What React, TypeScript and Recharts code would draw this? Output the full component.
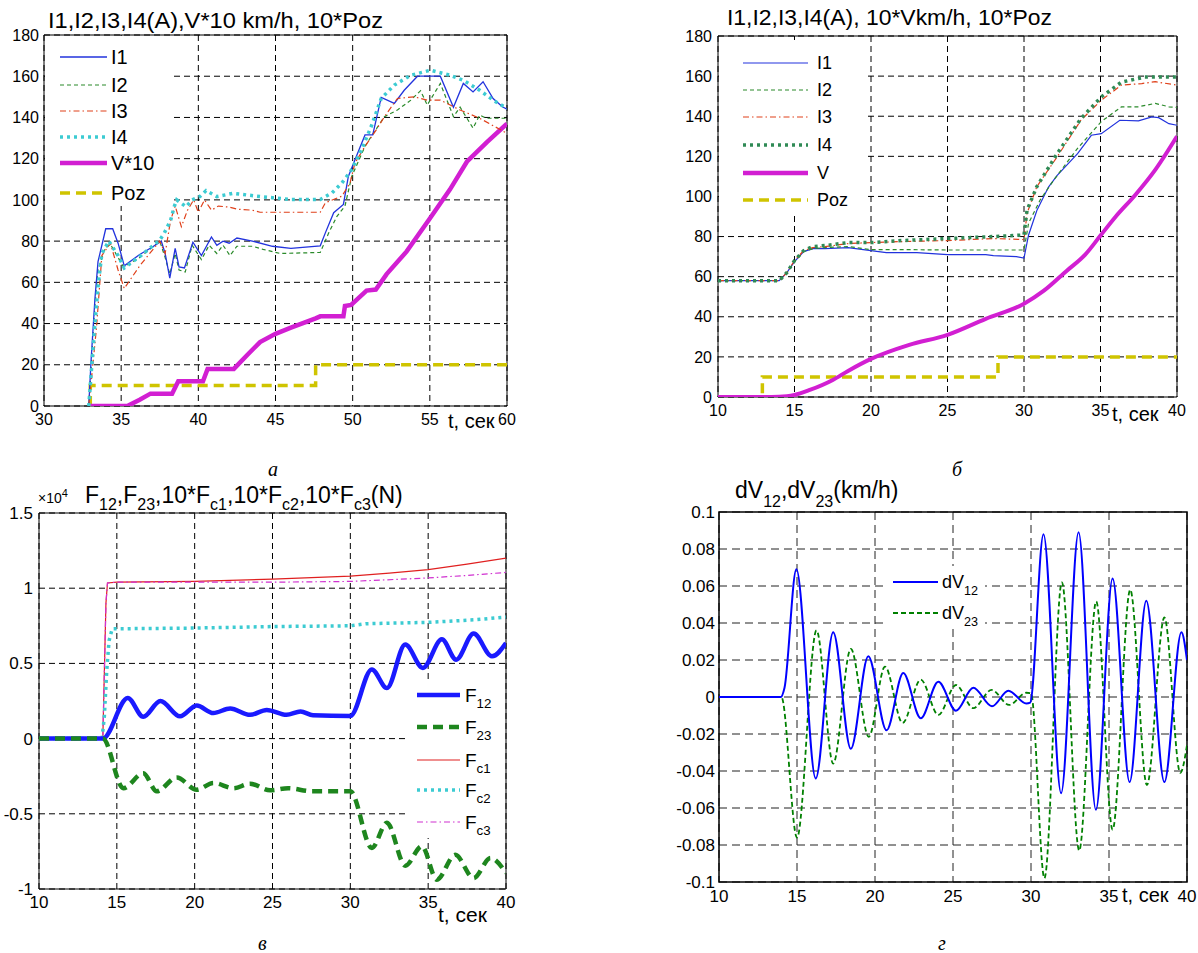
import React from 'react';
import { LineChart, Line, XAxis, YAxis, CartesianGrid, ReferenceArea } from 'recharts';

type P = [number, number];

// ---------------- Panel а : t 30..60 ----------------
const aXTicks = [30, 35, 40, 45, 50, 55, 60];
const aYTicks = [0, 20, 40, 60, 80, 100, 120, 140, 160, 180];
const aI1: P[] = [[32.9,0],[33.05,22],[33.3,52],[33.5,70],[33.75,78],[34.0,86],[34.45,86],[34.8,79],[35.2,68],[36.2,73.5],[37.0,77],[37.6,80],[37.85,74],[38.15,62],[38.5,76.5],[38.75,67.5],[39.1,67],[39.65,79.5],[40.2,73],[40.85,82],[41.2,78],[41.6,80],[42.0,79],[42.5,81.5],[43.5,80],[44.8,77.5],[46.0,76.5],[47.9,77.7],[48.23,84],[48.77,93.8],[49.4,97.8],[49.72,111.4],[50.15,119.5],[50.8,131.5],[51.3,131.5],[51.85,149.7],[52.7,146.8],[53.34,153.2],[54.2,160],[55.68,160],[56.53,144.9],[57.17,156.5],[57.8,152.4],[58.45,157.3],[59.1,149.2],[59.7,145.2],[60,144]];
const aI2: P[] = [[32.9,0],[33.05,18],[33.3,48],[33.5,66],[33.95,76.5],[34.3,78.5],[35.15,67.5],[36.2,72],[37.5,80],[37.85,72],[38.15,64],[38.5,74],[38.75,66],[39.15,65],[39.6,78],[40.2,71],[40.7,78],[41.2,74],[41.6,78],[42.05,73],[42.5,77.5],[43.5,77.5],[44.2,76],[45.3,74],[47.9,74.5],[48.45,84],[48.98,92],[49.5,97],[49.94,111.4],[50.8,126],[51.2,130.7],[52.06,140.4],[52.9,143.6],[53.77,148.4],[54.4,153],[54.83,146],[55.68,156.5],[56.53,140.4],[56.96,145],[57.8,134.8],[58.23,141.2],[58.66,139.6],[60,139.6]];
const aI3: P[] = [[32.9,0],[33.1,15],[33.4,38],[33.75,73],[34.3,79],[34.8,66],[35.2,57],[36.2,68],[37.5,80],[37.85,74],[38.2,90],[38.5,97],[38.9,87],[39.3,95],[39.7,100],[40.0,94],[40.4,100],[40.85,95],[41.3,97],[42.0,96.5],[42.5,95.5],[43.5,95],[44.0,94],[47.9,94],[48.23,98.6],[49.3,101.8],[49.83,108.2],[50.15,117.9],[50.8,126],[51.53,134],[52.06,140.4],[52.9,149.2],[53.98,150],[54.83,148.4],[55.68,148.4],[56.96,143.6],[58.23,139.6],[60,132.3]];
const aI4: P[] = [[32.9,0],[33.0,10],[33.1,20],[33.3,40],[33.5,58],[33.75,74],[34.2,80],[34.8,73],[35.2,67],[36.2,72.5],[37.5,80.5],[37.8,84],[38.2,90],[38.45,97],[38.6,100],[39.2,96.7],[39.6,100],[40.1,101.6],[40.5,104.5],[41.2,101.6],[42.25,103.2],[43.8,101.8],[45.9,100.2],[47.9,100.2],[48.66,103.4],[49.3,108.2],[49.94,114.7],[50.57,124.3],[51.2,135.6],[51.85,149.2],[52.7,155.7],[53.77,160.5],[55.04,162.9],[56.3,160.5],[57.17,158],[58.23,153.2],[59.1,148.4],[60,144.4]];
const aV10: P[] = [[33,0],[35.4,0],[36.2,3],[36.9,6],[38.3,6],[38.7,12],[40.3,12],[40.6,18],[42.3,18],[43.2,25],[44,31],[45,35],[46,38],[47.6,42.5],[47.9,43.5],[49.4,43.5],[49.5,48.5],[49.9,49],[50.9,56],[51.5,56.5],[52.2,64],[53.5,75],[55,91],[56.3,105],[57.4,118.5],[58.7,128],[60,137]];
const aPoz: P[] = [[33,0],[33,10],[47.6,10],[47.6,20],[60,20]];

// ---------------- Panel б : t 10..40 ----------------
const bXTicks = [10, 15, 20, 25, 30, 35, 40];
const bYTicks = [0, 20, 40, 60, 80, 100, 120, 140, 160, 180];
const bI1: P[] = [[10,58],[14,58],[14.5,62],[15,67.5],[15.6,72.5],[16.2,74],[17,74],[18.5,74.5],[19.5,73.5],[20,73],[21,72],[23,72],[24,71.5],[25,71],[27.5,71],[28,70.5],[29.5,70],[30,69.3],[30.3,80.8],[30.84,93],[31.6,104.7],[32.17,110.5],[33.5,121.3],[34.4,130.5],[35.05,131.3],[36.26,138],[37.48,137.7],[38.36,139.7],[38.8,139.3],[39.47,136.3],[40,135.5]];
const bI2: P[] = [[10,58],[14,58],[14.5,62],[15,67.5],[15.6,72.5],[16.2,74],[17,74.5],[18.5,75],[19.5,74],[20,73.5],[22,73.5],[25,73.3],[30,73.3],[30.3,86.7],[31.06,98.3],[31.95,108.2],[33.5,124],[35.05,137.3],[36.37,144.7],[37.48,144.7],[38.58,146.4],[39.47,144.7],[40,144.4]];
const bI3: P[] = [[10,58],[14,58],[14.5,62],[15,68],[15.6,73],[16.2,74.5],[17,75],[18.5,76.5],[20,77],[22,77.5],[25,78],[28,79],[30,78.5],[30.2,91.6],[30.84,104.9],[32.17,119.8],[33.72,138],[35.05,148],[36.37,155.5],[37.7,156.3],[38.58,157.2],[40,155.5]];
const bI4: P[] = [[10,58],[14,58],[14.5,62],[15,68],[15.6,73],[16.2,75],[17,75.5],[18.5,77],[20,77],[22,78],[25,79],[28,80],[30,80.8],[30.2,93.2],[30.84,104.9],[32.17,121.4],[33.72,138.8],[35.05,149.6],[36.37,157],[37.9,159.5],[40,159.5]];
const bV: P[] = [[10,0],[13.5,0],[14.5,0.4],[15,1],[16,3.5],[17.5,8.5],[18.5,13],[20,19],[22.5,26],[25,31],[27.5,39],[30,46.5],[31.3,53],[32.8,63],[34,71],[35,80.5],[36,90],[37.3,101],[38.6,113.5],[40,130]];
const bPoz: P[] = [[10,0],[12.9,0],[12.9,10],[28.3,10],[28.3,20],[40,20]];

// ---------------- Panel в : t 10..40, x10^4 N ----------------
const cXTicks = [10, 15, 20, 25, 30, 35, 40];
const cYTicks = [-1, -0.5, 0, 0.5, 1, 1.5];
const cF12: P[] = [[10,0],[14.1,0],[15.7,0.27],[16.7,0.145],[17.8,0.25],[19.06,0.148],[20.13,0.22],[21.2,0.17],[22.28,0.2],[23.56,0.158],[24.63,0.19],[25.9,0.158],[26.8,0.18],[27.6,0.155],[30,0.15],[31.38,0.46],[32.35,0.336],[33.53,0.625],[34.66,0.47],[35.88,0.66],[36.8,0.525],[37.92,0.698],[39.1,0.547],[40,0.636]];
const cF23: P[] = [[10,0],[14.1,0],[15.42,-0.33],[16.7,-0.23],[17.56,-0.35],[18.85,-0.258],[20.13,-0.34],[21.2,-0.295],[22.5,-0.33],[23.56,-0.3],[24.85,-0.344],[26,-0.33],[27.5,-0.35],[30,-0.35],[31.38,-0.727],[32.35,-0.56],[33.53,-0.845],[34.6,-0.716],[35.56,-0.938],[36.74,-0.773],[37.92,-0.927],[39,-0.794],[40,-0.894]];
const cFc1: P[] = [[10,0],[14.1,0],[14.3,0.9],[14.4,1.035],[15,1.04],[20,1.045],[25,1.06],[30,1.08],[32.5,1.1],[35,1.123],[37.5,1.16],[40,1.2]];
const cFc2: P[] = [[10,0],[14.05,0],[14.2,0.15],[14.35,0.45],[14.5,0.65],[14.7,0.73],[20,0.735],[25,0.745],[30,0.75],[31,0.764],[35,0.773],[38,0.79],[40,0.808]];
const cFc3: P[] = [[10,0],[14.1,0],[14.3,0.9],[14.4,1.035],[15,1.04],[20,1.04],[25,1.04],[30,1.045],[35,1.068],[37.5,1.085],[40,1.105]];

// ---------------- Panel г : t 10..40, km/h ----------------
const dXTicks = [10, 15, 20, 25, 30, 35, 40];
const dYTicks = [-0.1, -0.08, -0.06, -0.04, -0.02, 0, 0.02, 0.04, 0.06, 0.08, 0.1];
const dV12: P[] = [[10,0],[13.96,0],[14.2,0.005],[14.96,0.069],[16.2,-0.044],[17.32,0.035],[18.45,-0.028],[19.57,0.022],[20.74,-0.018],[21.81,0.013],[22.93,-0.0115],[24.06,0.0083],[25.19,-0.0074],[26.3,0.005],[27.5,-0.005],[28.55,0.0034],[29.7,-0.0035],[29.95,-0.003],[30.8,0.088],[31.93,-0.052],[33.05,0.089],[34.16,-0.061],[35.23,0.064],[36.32,-0.046],[37.39,0.052],[38.55,-0.046],[39.64,0.035],[40,0.02]];
const dV23: P[] = [[10,0],[14,0],[15.0,-0.076],[16.25,0.036],[17.32,-0.036],[18.45,0.026],[19.6,-0.0215],[20.64,0.0164],[21.77,-0.014],[22.93,0.0094],[24.06,-0.0097],[25.19,0.0065],[26.3,-0.006],[27.48,0.0038],[28.6,-0.0043],[29.7,0.0023],[30.0,0.002],[30.86,-0.098],[31.98,0.062],[33.09,-0.083],[34.18,0.0516],[35.23,-0.0717],[36.36,0.058],[37.43,-0.0476],[38.55,0.043],[39.57,-0.041],[40,-0.026]];

const FONT = "'Liberation Sans', Arial, Helvetica, sans-serif";
const SERIF = "'Liberation Serif', 'Times New Roman', serif";

const toRows = (arr: P[], key: string) => arr.map(([t, v]) => ({ t, [key]: v }));

type S = { key: string; data: P[]; color: string; width: number; dash?: string; curve?: 'linear' | 'monotone' };

type PanelProps = {
  left: number; top: number; width: number; height: number;
  margin: { top: number; right: number; bottom: number; left: number };
  yWidth: number; xDomain: [number, number]; yDomain: [number, number];
  xTicks: number[]; yTicks: number[]; series: S[]; gridDash: string;
  fontSize: number; xMargin: number; yMargin: number; frameWidth?: number; gridColor?: string;
};

function Panel(p: PanelProps) {
  const tickStyle = { fill: '#000', fontSize: p.fontSize, fontFamily: FONT };
  return (
    <div style={{ position: 'absolute', left: p.left, top: p.top }}>
      <LineChart width={p.width} height={p.height} margin={p.margin}>
        <CartesianGrid stroke={p.gridColor || '#000'} strokeDasharray={p.gridDash} strokeWidth={1} />
        <XAxis dataKey="t" type="number" domain={p.xDomain} ticks={p.xTicks} interval={0} allowDataOverflow
          tickSize={0} tickMargin={p.xMargin} axisLine={false} tickLine={false} height={24} tick={tickStyle} />
        <YAxis type="number" domain={p.yDomain} ticks={p.yTicks} interval={0} allowDataOverflow
          tickSize={0} tickMargin={p.yMargin} axisLine={false} tickLine={false} width={p.yWidth} tick={tickStyle} />
        {p.series.map((s) => (
          <Line key={s.key} data={toRows(s.data, s.key)} dataKey={s.key} type={s.curve || 'linear'}
            stroke={s.color} strokeWidth={s.width} strokeDasharray={s.dash} dot={false} activeDot={false}
            isAnimationActive={false} />
        ))}
        <ReferenceArea x1={p.xDomain[0]} x2={p.xDomain[1]} y1={p.yDomain[0]} y2={p.yDomain[1]}
          fill="none" fillOpacity={0} stroke="#000" strokeWidth={p.frameWidth || 1} ifOverflow="visible" />
      </LineChart>
    </div>
  );
}

const C = {
  blue: '#2233dd', green: '#2a8a2a', red: '#e0401a', cyan: '#3ccbd2', magenta: '#d21fd2', yellow: '#cfc400', seagreen: '#2f8a55',
};

const seriesA: S[] = [
  { key: 'aPoz', data: aPoz, color: C.yellow, width: 3.5, dash: '10 6' },
  { key: 'aV10', data: aV10, color: C.magenta, width: 4.5 },
  { key: 'aI2', data: aI2, color: C.green, width: 1.2, dash: '4 3' },
  { key: 'aI1', data: aI1, color: C.blue, width: 1.3 },
  { key: 'aI3', data: aI3, color: C.red, width: 1.2, dash: '6 3 1.5 3' },
  { key: 'aI4', data: aI4, color: C.cyan, width: 3.5, dash: '3 4' },
];
const seriesB: S[] = [
  { key: 'bPoz', data: bPoz, color: C.yellow, width: 3.5, dash: '10 6' },
  { key: 'bV', data: bV, color: C.magenta, width: 4, curve: 'monotone' },
  { key: 'bI1', data: bI1, color: C.blue, width: 1.2 },
  { key: 'bI2', data: bI2, color: C.green, width: 1.2, dash: '4 3' },
  { key: 'bI3', data: bI3, color: C.red, width: 1.2, dash: '6 3 1.5 3' },
  { key: 'bI4', data: bI4, color: C.seagreen, width: 3.5, dash: '3 4' },
];
const seriesC: S[] = [
  { key: 'cFc1', data: cFc1, color: '#e02020', width: 1.2 },
  { key: 'cFc3', data: cFc3, color: '#d030d0', width: 1.2, dash: '6 3 1.5 3' },
  { key: 'cFc2', data: cFc2, color: C.cyan, width: 3.5, dash: '3 4' },
  { key: 'cF12', data: cF12, color: '#1a1aff', width: 4.5, curve: 'monotone' },
  { key: 'cF23', data: cF23, color: '#1e861e', width: 4.5, dash: '10 6', curve: 'monotone' },
];
const seriesD: S[] = [
  { key: 'dV23', data: dV23, color: '#008000', width: 1.8, dash: '5 3', curve: 'monotone' },
  { key: 'dV12', data: dV12, color: '#0000ff', width: 2, curve: 'monotone' },
];

function LegendRow({ x1, x2, y, color, width, dash, labelX, fontSize, label, sub }: any) {
  return (
    <g>
      <line x1={x1} x2={x2} y1={y} y2={y} stroke={color} strokeWidth={width} strokeDasharray={dash} />
      <text x={labelX} y={y + fontSize * 0.36} fontSize={fontSize} fontFamily={FONT} fill="#000">
        {label}
        {sub ? <tspan dy={fontSize * 0.35} fontSize={fontSize * 0.7}>{sub}</tspan> : null}
      </text>
    </g>
  );
}

function Sub({ children, d, fs }: any) {
  return <tspan dy={d} fontSize={fs}>{children}</tspan>;
}

function Overlay() {
  return (
    <svg width={1198} height={953} style={{ position: 'absolute', left: 0, top: 0, pointerEvents: 'none' }}>
      {/* ---- panel а ---- */}
      <text x={48} y={28} fontSize={22} fontFamily={FONT} textLength={335} lengthAdjust="spacingAndGlyphs">I1,I2,I3,I4(A),V*10 km/h, 10*Poz</text>
      <rect x={45} y={36} width={127} height={170} fill="#fff" />
      <LegendRow x1={60} x2={107} y={57} color={C.blue} width={1.3} labelX={111} fontSize={20} label="I1" />
      <LegendRow x1={60} x2={107} y={85} color={C.green} width={1.2} dash="4 3" labelX={111} fontSize={20} label="I2" />
      <LegendRow x1={60} x2={107} y={111} color={C.red} width={1.2} dash="6 3 1.5 3" labelX={111} fontSize={20} label="I3" />
      <LegendRow x1={60} x2={107} y={137} color={C.cyan} width={3.5} dash="3 4" labelX={111} fontSize={20} label="I4" />
      <LegendRow x1={60} x2={107} y={163} color={C.magenta} width={4.5} labelX={111} fontSize={20} label="V*10" />
      <LegendRow x1={60} x2={107} y={193} color={C.yellow} width={3.5} dash="10 6" labelX={111} fontSize={20} label="Poz" />
      <text x={448} y={428} fontSize={20} fontFamily={FONT}>t, сек</text>
      <text x={268} y={476} fontSize={20} fontFamily={SERIF} fontStyle="italic">а</text>

      {/* ---- panel б ---- */}
      <text x={727} y={25} fontSize={22} fontFamily={FONT} textLength={325} lengthAdjust="spacingAndGlyphs">I1,I2,I3,I4(A), 10*Vkm/h, 10*Poz</text>
      <rect x={719} y={40} width={149} height={175} fill="#fff" />
      <LegendRow x1={743} x2={808} y={63} color={C.blue} width={1.2} labelX={817} fontSize={18} label="I1" />
      <LegendRow x1={743} x2={808} y={90} color={C.green} width={1.2} dash="4 3" labelX={817} fontSize={18} label="I2" />
      <LegendRow x1={743} x2={808} y={117} color={C.red} width={1.2} dash="6 3 1.5 3" labelX={817} fontSize={18} label="I3" />
      <LegendRow x1={743} x2={808} y={145} color={C.seagreen} width={3.5} dash="3 4" labelX={817} fontSize={18} label="I4" />
      <LegendRow x1={743} x2={808} y={173} color={C.magenta} width={4.5} labelX={817} fontSize={18} label="V" />
      <LegendRow x1={743} x2={808} y={200} color={C.yellow} width={3.5} dash="10 6" labelX={817} fontSize={18} label="Poz" />
      <text x={1112} y={421} fontSize={20} fontFamily={FONT}>t, сек</text>
      <text x={952} y={476} fontSize={20} fontFamily={SERIF} fontStyle="italic">б</text>

      {/* ---- panel в ---- */}
      <text x={38} y={503} fontSize={14} fontFamily={FONT}>×10<tspan dy={-6} fontSize={11}>4</tspan></text>
      <text x={85} y={503} fontSize={23} fontFamily={FONT}>
        F<Sub d={7} fs={16}>12</Sub><Sub d={-7} fs={23}>,F</Sub><Sub d={7} fs={16}>23</Sub><Sub d={-7} fs={23}>,10*F</Sub><Sub d={7} fs={16}>c1</Sub><Sub d={-7} fs={23}>,10*F</Sub><Sub d={7} fs={16}>c2</Sub><Sub d={-7} fs={23}>,10*F</Sub><Sub d={7} fs={16}>c3</Sub><Sub d={-7} fs={23}>(N)</Sub>
      </text>
      <rect x={408} y={680} width={97} height={158} fill="#fff" />
      <LegendRow x1={417} x2={460} y={695} color="#1a1aff" width={4.5} labelX={465} fontSize={19} label="F" sub="12" />
      <LegendRow x1={417} x2={460} y={727} color="#1e861e" width={4.5} dash="10 6" labelX={465} fontSize={19} label="F" sub="23" />
      <LegendRow x1={417} x2={460} y={760} color="#e02020" width={1.2} labelX={465} fontSize={19} label="F" sub="c1" />
      <LegendRow x1={417} x2={460} y={790} color={C.cyan} width={3.5} dash="3 4" labelX={465} fontSize={19} label="F" sub="c2" />
      <LegendRow x1={417} x2={460} y={822} color="#d030d0" width={1.2} dash="6 3 1.5 3" labelX={465} fontSize={19} label="F" sub="c3" />
      <text x={438} y={922} fontSize={21} fontFamily={FONT}>t, сек</text>
      <text x={258} y={950} fontSize={20} fontFamily={SERIF} fontStyle="italic">в</text>

      {/* ---- panel г ---- */}
      <text x={735} y={498} fontSize={23} fontFamily={FONT}>
        dV<Sub d={9} fs={16}>12</Sub><Sub d={-9} fs={23}>,dV</Sub><Sub d={9} fs={16}>23</Sub><Sub d={-9} fs={23}>(km/h)</Sub>
      </text>
      <rect x={888} y={566} width={97} height={62} fill="#fff" />
      <LegendRow x1={893} x2={938} y={582} color="#0000ff" width={2} labelX={942} fontSize={18} label="dV" sub="12" />
      <LegendRow x1={893} x2={938} y={613} color="#008000" width={1.8} dash="5 3" labelX={942} fontSize={18} label="dV" sub="23" />
      <text x={1122} y={902} fontSize={20} fontFamily={FONT}>t, сек</text>
      <text x={938} y={950} fontSize={20} fontFamily={SERIF} fontStyle="italic">г</text>
    </svg>
  );
}

export default function App() {
  return (
    <div style={{ position: 'absolute', left: 0, top: 0, width: 1198, height: 953, background: '#fff', overflow: 'hidden' }}>
      <Panel left={0} top={0} width={530} height={440} margin={{ top: 35, right: 23, bottom: 10, left: 0 }}
        yWidth={44} xDomain={[30, 60]} yDomain={[0, 180]} xTicks={aXTicks} yTicks={aYTicks}
        series={seriesA} gridDash="6 4" fontSize={16} xMargin={8} yMargin={5} />
      <Panel left={670} top={0} width={528} height={440} margin={{ top: 36, right: 21, bottom: 19, left: 0 }}
        yWidth={48} xDomain={[10, 40]} yDomain={[0, 180]} xTicks={bXTicks} yTicks={bYTicks}
        series={seriesB} gridDash="6 4" fontSize={16} xMargin={8} yMargin={6} />
      <Panel left={0} top={470} width={530} height={450} margin={{ top: 43, right: 24, bottom: 7, left: 0 }}
        yWidth={39} xDomain={[10, 40]} yDomain={[-1, 1.5]} xTicks={cXTicks} yTicks={cYTicks}
        series={seriesC} gridDash="6 4" fontSize={17} xMargin={7} yMargin={6} />
      <Panel left={670} top={470} width={528} height={450} margin={{ top: 42, right: 11, bottom: 14, left: 0 }}
        yWidth={49} xDomain={[10, 40]} yDomain={[-0.1, 0.1]} xTicks={dXTicks} yTicks={dYTicks}
        series={seriesD} gridDash="8 5" fontSize={17} xMargin={8} yMargin={4} frameWidth={1.5} gridColor="#222" />
      <Overlay />
    </div>
  );
}
